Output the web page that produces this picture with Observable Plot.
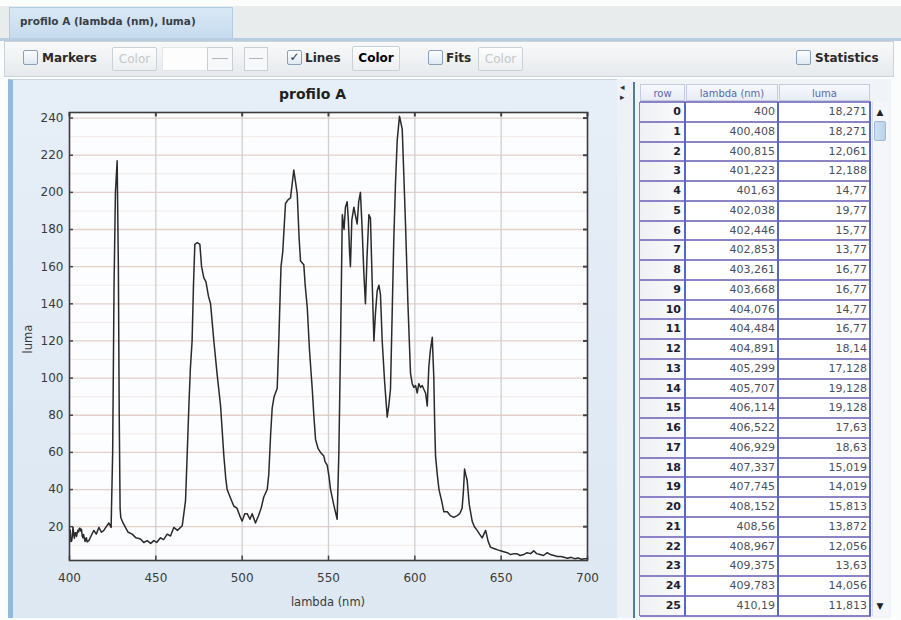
<!DOCTYPE html>
<html><head><meta charset="utf-8">
<script src="https://cdn.jsdelivr.net/npm/d3@7"></script>
<script src="https://cdn.jsdelivr.net/npm/@observablehq/plot@0.6"></script>
<style>
body{margin:0;width:901px;height:620px;overflow:hidden;background:#fbfcfc;font-family:"DejaVu Sans",sans-serif;position:relative}
.a{position:absolute;box-sizing:border-box}
.lbl{font-weight:bold;font-size:12px;color:#2a2a2a;line-height:16px}
.cb{width:15px;height:15px;border:1px solid #8aa0b6;background:linear-gradient(#fbfdff,#dfe9f3);border-radius:2px}
.btn{border:1px solid #c9d0d6;background:linear-gradient(#fdfdfd,#eceff1);border-radius:2px;font-size:12px;font-weight:bold;text-align:center;line-height:22px}
.dis{color:#c4c8cc;font-weight:normal}
.hdr{top:84px;height:17px;font-size:10px;color:#5a68b0;text-align:center;line-height:17px;background:linear-gradient(#f7f9fd,#e7ecf5);border:1px solid #c4cbe0}
.ri{font-size:11px;font-weight:bold;color:#1e2030;text-align:right;padding-right:4px;background:linear-gradient(90deg,#eef0f3,#fafbfc)}
.cv{font-size:11px;color:#4a4f5c;text-align:right;padding-right:3px;background:#fff}
</style></head><body>
<div id="root"></div>
<script>
// ---------- data ----------
const tableRows = [0,1,2,3,4,5,6,7,8,9,10,11,12,13,14,15,16,17,18,19,20,21,22,23,24,25];
const lambda = [
  400,400.408,400.815,401.223,401.63,402.038,402.446,402.853,403.261,403.668,404.076,404.484,404.891,
  405.299,405.707,406.114,406.522,406.929,407.337,407.745,408.152,408.56,408.967,409.375,409.783,410.19,
  411.2,412.5,414.1,415.5,417,418.5,419.9,421.3,422.8,424.1,425,425.8,426.6,427.6,428.3,428.8,429.3,429.7,
  431,432.4,434,436.3,438.5,441.1,443,445,447,448.8,450.5,452.7,454.5,456.6,458.5,460.4,462.5,465.3,
  467.2,468.2,469.1,470,471,471.8,472.6,474,475.5,476.5,477.8,479,480.5,481.7,483.6,485.5,487.5,489.4,
  490.5,491.3,493,495.2,497,499,500,501.5,502.9,504.5,505.8,507.7,509.5,511,512.5,514.5,515.4,516.5,
  517.4,518.5,520.3,521.2,522,522.5,523.5,525.1,526.5,528,529.9,531,531.9,533,533.8,535.7,536.5,537.7,
  539,540.6,541.5,542.5,544,545.4,547.3,548,549.3,550.3,551.2,553,555,556,557,558,559,559.8,560.8,
  561.5,562.2,562.7,563.5,564.7,565.5,566.6,567.5,568.5,569.5,570.5,571.4,572.3,573.4,574.3,575.2,
  576.3,577.2,578.2,579.2,580.1,581.1,582.5,584,584.9,585.9,587,587.8,588.8,589.8,591.1,592.7,593.6,
  594.6,596,597.5,598.5,599.4,600.4,601.4,602.3,603.3,604.3,605.2,606.2,607.2,608.1,609,610.1,611,
  611.5,612,613,614,615.5,616.8,618.8,620.5,622.6,624.5,626,627.4,628.2,628.8,629.5,630.3,631.5,633.2,
  634.5,636.1,637.5,639,640,641,642.5,643.8,645,646.5,648,649.6,651.5,653.5,655.5,657.5,659.3,661,663,
  665,667,668.9,670.5,672.5,674.5,676.7,678.5,680.5,682.5,684.5,686.3,688.5,690.5,692.5,694.5,696.5,
  698.5,700
];
const luma = [
  18.271,18.271,12.061,12.188,14.77,19.77,15.77,13.77,16.77,16.77,14.77,16.77,18.14,
  17.128,19.128,19.128,17.63,18.63,15.019,14.019,15.813,13.872,12.056,13.63,14.056,11.813,
  12.5,15,18,16,19.6,17,18,20,22,19.6,60,150,200,217,160,80,30,25,
  22,19.6,17,16,14,13.4,11.5,12.5,11,12.5,11.5,14,13,16,15,19.6,18,20.5,
  34,60,84,105,120,150,172,173,172,160,154,152,144,140,120,102,85,58,
  46,40,36,31,30,25,23,27,27,24,27,22,26,30,36,40,48,70,
  84,90,94.5,119.5,145,160,168,194,196,197,212,205,199,175,163,161,150,138,
  115,94,80,67,62,60,58,55,53,47,40,32,24,60,120,188,180,192,195,
  185,168,160,185,192,188,183,195,200,180,156,140,165,188,186,155,
  120,135,147,150,145,120,98,79,85,94,140,174,205,228,241,234,210,
  183,140,102.5,97,95,96,92,97,95,96,94,92,85,106,115,122,100,
  75,58,48,40,34,28,28,26,25,26,27,30,40,51,48,45,32,23,
  20,18,16,14,16,18,12,9,8.5,8,7.5,7,6.5,6,5,5.5,5.4,4.5,5,
  6,5.5,7,5.5,5,4.5,6,5,4.5,4,4,3.6,3,3.5,2.8,3.2,2.5,
  2.8,2.7
];
const xTicks = [400,450,500,550,600,650,700];
const yTicks = [20,40,60,80,100,120,140,160,180,200,220,240];
const yMinor = [10,30,50,70,90,110,130,150,170,190,210,230];
const chartTitle = "profilo A";
const xLabel = "lambda (nm)";
const yLabel = "luma";
const tabTitle = "profilo A (lambda (nm), luma)";
const tableHeaders = ["row", "lambda (nm)", "luma"];

const root = document.getElementById("root");
function el(html){ const d=document.createElement("div"); d.innerHTML=html; while(d.firstChild) root.appendChild(d.firstChild); }

// ---------- window chrome ----------
el(`<div class="a" style="left:0;top:6px;width:901px;height:33px;background:#e9ecec"></div>
<div class="a" style="left:9px;top:7px;width:224px;height:32px;background:linear-gradient(#d9e8f5,#c5dbee);border:1px solid #b3cbe0;border-bottom:none"></div>
<div class="a" style="left:20px;top:15px;font-size:10.5px;font-weight:bold;color:#3a3f46">${tabTitle}</div>
<div class="a" style="left:0;top:38px;width:901px;height:3px;background:#b8cde0"></div>
<div class="a" style="left:4px;top:41px;width:890px;height:36px;background:linear-gradient(#f8f9fa,#e6eaed);border:1px solid #cbd3da"></div>
<div class="a cb" style="left:23px;top:50px"></div>
<div class="a lbl" style="left:42px;top:50px">Markers</div>
<div class="a btn dis" style="left:112px;top:47px;width:45px;height:24px">Color</div>
<div class="a" style="left:162px;top:47px;width:46px;height:24px;background:#fdfdfd;border:1px solid #e2e5e8"></div>
<div class="a" style="left:207px;top:47px;width:26px;height:24px;border:1px solid #c9cfd4;background:#f7f8f9"><div class="a" style="left:4px;top:10px;width:16px;height:1px;background:#b0b6bc"></div></div>
<div class="a" style="left:244px;top:47px;width:24px;height:24px;border:1px solid #c9cfd4;background:#f7f8f9"><div class="a" style="left:4px;top:10px;width:14px;height:1px;background:#b0b6bc"></div></div>
<div class="a cb" style="left:287px;top:50px;font-size:12px;line-height:13px;text-align:center;color:#333">✓</div>
<div class="a lbl" style="left:305px;top:50px">Lines</div>
<div class="a btn" style="left:352px;top:46px;width:48px;height:25px">Color</div>
<div class="a cb" style="left:428px;top:50px"></div>
<div class="a lbl" style="left:446px;top:50px">Fits</div>
<div class="a btn dis" style="left:478px;top:47px;width:45px;height:24px">Color</div>
<div class="a cb" style="left:796px;top:50px"></div>
<div class="a lbl" style="left:815px;top:50px">Statistics</div>
<div class="a" style="left:8px;top:79px;width:609px;height:539px;background:linear-gradient(#e6eef7,#dde8f3);border-left:5px solid #93b9dd;border-top:1px solid #c3d3e2"></div>
<div class="a" style="left:617px;top:79px;width:16px;height:539px;background:#eef2f6"></div>
<div class="a" style="left:620px;top:82px;font-size:9px;color:#333;line-height:10px">◂<br>▸</div>
<div class="a" style="left:633px;top:79px;width:258px;height:539px;background:#f1f4f7"></div>
<div class="a" style="left:10px;top:86px;width:605px;text-align:center;font-size:14px;font-weight:bold;color:#1f1f1f">${chartTitle}</div>
<div class="a" style="left:228px;top:595px;width:200px;text-align:center;font-size:11.5px;color:#3a3a3a">${xLabel}</div>
<div class="a" style="left:-72px;top:332px;width:200px;text-align:center;font-size:11.5px;color:#3a3a3a;transform:rotate(-90deg)">${yLabel}</div>`);

// ---------- chart ----------
const data = lambda.map((x,i)=>({x, y: luma[i]}));
const chart = Plot.plot({
  width: 605, height: 537,
  marginLeft: 59, marginRight: 28, marginTop: 32, marginBottom: 57,
  style: {background: "transparent", fontFamily: "DejaVu Sans, sans-serif", fontSize: "12px", color: "#3a3a3a", overflow: "visible"},
  x: {domain: [400, 700]},
  y: {domain: [1.8, 243]},
  marks: [
    Plot.frame({fill: "#fcfdfe", stroke: "none"}),
    Plot.ruleY(yMinor, {stroke: "#f1ebe8", strokeWidth: 1}),
    Plot.ruleY(yTicks, {stroke: "#e3d0c8", strokeWidth: 1.3}),
    Plot.ruleX(xTicks.slice(1, -1), {stroke: "#d3cdcd", strokeWidth: 1.3}),
    Plot.ruleY(yTicks, {x1: 700, x2: 697.7, stroke: "#444", strokeWidth: 2}),
    Plot.ruleY(yTicks, {x1: 400, x2: 402.3, stroke: "#444", strokeWidth: 1.5}),
    Plot.ruleX(xTicks, {y1: 243, y2: 240.6, stroke: "#444", strokeWidth: 2}),
    Plot.ruleX(xTicks, {y1: 1.8, y2: 4.2, stroke: "#444", strokeWidth: 1.5}),
    Plot.axisX(xTicks, {tickSize: 0, tickPadding: 13, fontSize: 12, label: null}),
    Plot.axisY(yTicks, {tickSize: 0, tickPadding: 6, fontSize: 12, label: null}),
    Plot.line(data, {x: "x", y: "y", stroke: "#2a2a2a", strokeWidth: 1.5}),
    Plot.frame({stroke: "#3c3c3c", strokeWidth: 1.6})
  ]
});
chart.style.position = "absolute";
chart.style.left = "10px";
chart.style.top = "80px";
root.appendChild(chart);

// ---------- table ----------
const rowH = 19.76, top0 = 102;
el(`<div class="a" style="left:633px;top:82px;width:2px;height:536px;background:#4f7d9c"></div>
<div class="a hdr" style="left:640px;width:45px">${tableHeaders[0]}</div>
<div class="a hdr" style="left:686px;width:92px">${tableHeaders[1]}</div>
<div class="a hdr" style="left:779px;width:91px">${tableHeaders[2]}</div>`);
const fmt = v => String(v).replace(".", ",");
let html = "";
tableRows.forEach((r, i) => {
  const t = top0 + i*rowH;
  html += `<div class="a ri" style="left:640px;top:${t}px;width:45px;height:${rowH}px;line-height:${rowH+1}px">${r}</div>`;
  html += `<div class="a cv" style="left:686px;top:${t}px;width:92px;height:${rowH}px;line-height:${rowH+1}px">${fmt(lambda[i])}</div>`;
  html += `<div class="a cv" style="left:779px;top:${t}px;width:91px;height:${rowH}px;line-height:${rowH+1}px">${fmt(luma[i])}</div>`;
  html += `<div class="a" style="left:640px;top:${t-1}px;width:231px;height:2px;background:#8a84c6"></div>`;
});
html += `<div class="a" style="left:640px;top:${top0+26*rowH-1}px;width:231px;height:2px;background:#8a84c6"></div>`;
html += `<div class="a" style="left:684px;top:${top0}px;width:2px;height:${26*rowH}px;background:#5666cc"></div>`;
html += `<div class="a" style="left:777px;top:${top0}px;width:2px;height:${26*rowH}px;background:#5666cc"></div>`;
html += `<div class="a" style="left:869px;top:${top0}px;width:2px;height:${26*rowH}px;background:#5666cc"></div>`;
html += `<div class="a" style="left:639px;top:${top0}px;width:1px;height:${26*rowH}px;background:#7a86c0"></div>`;
// scrollbar
html += `<div class="a" style="left:872px;top:${top0}px;width:16px;height:${26*rowH}px;background:#f4f6f9;border-left:1px solid #d7dde4"></div>`;
html += `<div class="a" style="left:873px;top:104px;width:14px;height:16px;font-size:9px;text-align:center;line-height:16px;color:#222">▲</div>`;
html += `<div class="a" style="left:874px;top:121px;width:12px;height:20px;background:linear-gradient(90deg,#cfe2f3,#b9d2ea);border:1px solid #9fbad5;border-radius:2px"></div>`;
html += `<div class="a" style="left:873px;top:598px;width:14px;height:16px;font-size:9px;text-align:center;line-height:16px;color:#222">▼</div>`;
el(html);
</script>
</body></html>
